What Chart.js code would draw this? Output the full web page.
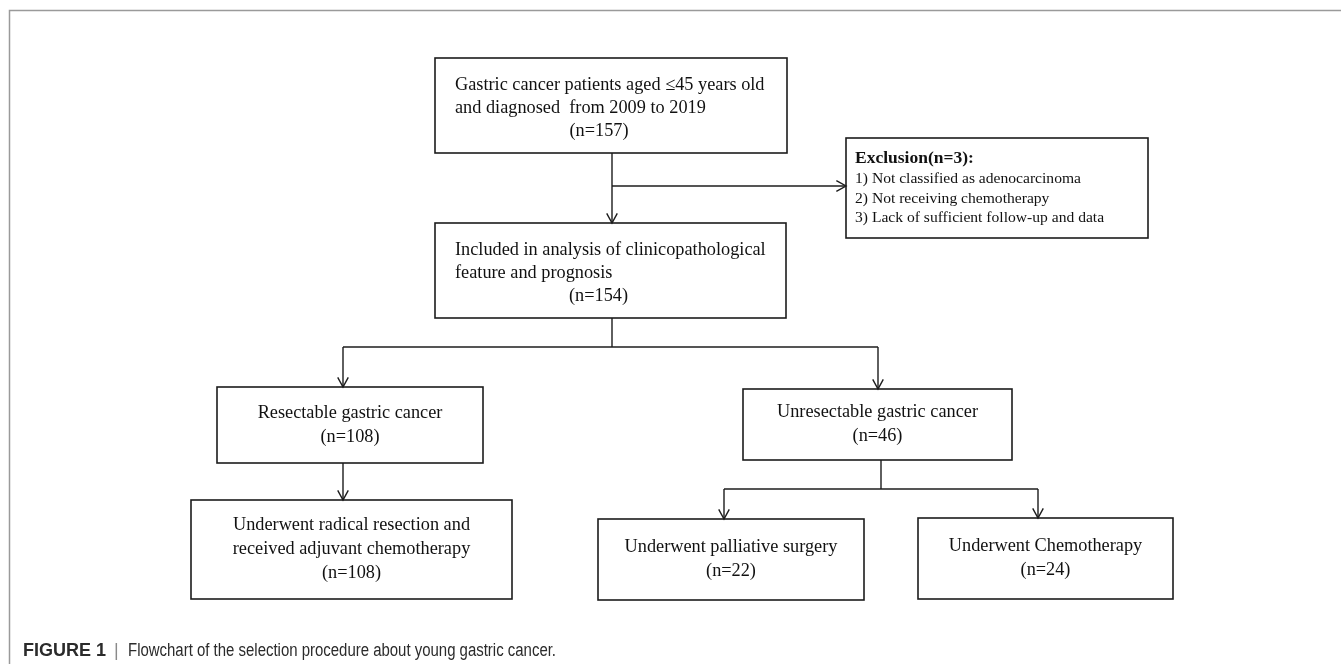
<!DOCTYPE html>
<html>
<head>
<meta charset="utf-8">
<script src="https://cdn.jsdelivr.net/npm/chart.js@4.4.0/dist/chart.umd.min.js"></script>
<style>
  html, body { margin: 0; padding: 0; background: #fff; }
  #wrap { width: 1341px; height: 664px; position: relative; }
</style>
</head>
<body>
<div id="wrap"><canvas id="flow"></canvas></div>
<script>
// flowchart data (text + counts)
const boxText = [
    ['Gastric cancer patients aged \u226445 years old', 'and diagnosed  from 2009 to 2019'],
    ['Included in analysis of clinicopathological', 'feature and prognosis'],
    ['Resectable gastric cancer'],
    ['Unresectable gastric cancer'],
    ['Underwent radical resection and', 'received adjuvant chemotherapy'],
    ['Underwent palliative surgery'],
    ['Underwent Chemotherapy']
];
const boxCounts = [157, 154, 108, 46, 108, 22, 24];
const exclusionCount = 3;
const exclusionReasons = [
    '1) Not classified as adenocarcinoma',
    '2) Not receiving chemotherapy',
    '3) Lack of sufficient follow-up and data'
];
const captionLabel = 'FIGURE 1';
const captionText = 'Flowchart of the selection procedure about young gastric cancer.';

// layout in chart units (x: 0..1341, y: 0..664 top-down)
const boxRects = [
    [435, 58, 787, 153],
    [435, 223, 786, 318],
    [217, 387, 483, 463],
    [743, 389, 1012, 460],
    [191, 500, 512, 599],
    [598, 519, 864, 600],
    [918, 518, 1173, 599]
];
const boxAlign = ['left', 'left', 'center', 'center', 'center', 'center', 'center'];
const exclusionRect = [846, 138, 1148, 238];

// connectors: [points, hasArrow]
const links = [
    [[[612, 153], [612, 223]], true],
    [[[612, 186], [846, 186]], true],
    [[[612, 318], [612, 347]], false],
    [[[343, 347], [878, 347]], false],
    [[[343, 347], [343, 387]], true],
    [[[878, 347], [878, 389]], true],
    [[[343, 463], [343, 500]], true],
    [[[881, 460], [881, 489]], false],
    [[[724, 489], [1038, 489]], false],
    [[[724, 489], [724, 519]], true],
    [[[1038, 489], [1038, 518]], true]
];

const serif = '"Liberation Serif", "Times New Roman", serif';

const flowPlugin = {
    id: 'flowPlugin',
    afterDraw(chart) {
        const ctx = chart.ctx;
        const sx = chart.scales.x, sy = chart.scales.y;
        const px = v => sx.getPixelForValue(v);
        const py = v => sy.getPixelForValue(v);

        ctx.save();

        // outer frame (top + left)
        ctx.strokeStyle = '#9a9a9a';
        ctx.lineWidth = 1.5;
        ctx.beginPath();
        ctx.moveTo(px(1341), py(10) + 0.5);
        ctx.lineTo(px(9) + 0.5, py(10) + 0.5);
        ctx.lineTo(px(9) + 0.5, py(664));
        ctx.stroke();

        // boxes
        ctx.strokeStyle = '#1c1c1c';
        ctx.lineWidth = 1.6;
        boxRects.concat([exclusionRect]).forEach(r => {
            ctx.strokeRect(px(r[0]), py(r[1]), px(r[2]) - px(r[0]), py(r[3]) - py(r[1]));
        });

        // connectors
        ctx.lineWidth = 1.4;
        links.forEach(l => {
            const pts = l[0];
            ctx.beginPath();
            ctx.moveTo(px(pts[0][0]), py(pts[0][1]));
            for (let i = 1; i < pts.length; i++) {
                ctx.lineTo(px(pts[i][0]), py(pts[i][1]));
            }
            ctx.stroke();
            if (l[1]) {
                const a = pts[pts.length - 2], b = pts[pts.length - 1];
                const tx = px(b[0]), ty = py(b[1]);
                const ang = Math.atan2(py(b[1]) - py(a[1]), px(b[0]) - px(a[0]));
                const len = 11, spread = 0.5;
                ctx.beginPath();
                ctx.moveTo(tx - len * Math.cos(ang - spread), ty - len * Math.sin(ang - spread));
                ctx.lineTo(tx, ty);
                ctx.lineTo(tx - len * Math.cos(ang + spread), ty - len * Math.sin(ang + spread));
                ctx.stroke();
            }
        });

        // box texts
        ctx.fillStyle = '#111';
        boxRects.forEach((r, i) => {
            const lines = boxText[i].concat(['(n=' + boxCounts[i] + ')']);
            const cx = (px(r[0]) + px(r[2])) / 2;
            if (boxAlign[i] === 'left') {
                ctx.font = '18.3px ' + serif;
                ctx.textBaseline = 'alphabetic';
                const top = py(r[1]);
                lines.forEach((t, j) => {
                    if (j < lines.length - 1) {
                        ctx.textAlign = 'left';
                        ctx.fillText(t, px(r[0]) + 20, top + 32 + j * 23);
                    } else {
                        ctx.textAlign = 'center';
                        ctx.fillText(t, cx - 12, top + 32 + j * 23);
                    }
                });
            } else {
                ctx.font = '18.3px ' + serif;
                ctx.textAlign = 'center';
                ctx.textBaseline = 'middle';
                const cy = (py(r[1]) + py(r[3])) / 2;
                const step = 24;
                const start = cy - (lines.length - 1) * step / 2;
                lines.forEach((t, j) => ctx.fillText(t, cx, start + j * step));
            }
        });

        // exclusion box
        const ex = px(exclusionRect[0]) + 9;
        ctx.textAlign = 'left';
        ctx.textBaseline = 'alphabetic';
        ctx.font = 'bold 17.5px ' + serif;
        ctx.fillText('Exclusion(n=' + exclusionCount + '):', ex, py(exclusionRect[1]) + 25);
        ctx.font = '15.6px ' + serif;
        exclusionReasons.forEach((t, j) => {
            ctx.fillText(t, ex, py(exclusionRect[1]) + 45 + j * 19.5);
        });

        // caption
        const capY = py(656);
        ctx.font = 'bold 18px "Liberation Sans", Arial, sans-serif';
        ctx.fillStyle = '#2b2b2b';
        ctx.fillText(captionLabel, px(23), capY);
        ctx.font = '18px "Liberation Sans", Arial, sans-serif';
        ctx.fillStyle = '#8a8a8a';
        ctx.fillText('|', px(114), capY);
        ctx.fillStyle = '#2b2b2b';
        ctx.fillText(captionText, px(128), capY, 428);

        ctx.restore();
    }
};

new Chart(document.getElementById('flow'), {
    type: 'scatter',
    data: {
        datasets: [{
            data: boxRects.map(r => ({ x: (r[0] + r[2]) / 2, y: (r[1] + r[3]) / 2 })),
            pointRadius: 0,
            pointHoverRadius: 0
        }]
    },
    options: {
        responsive: true,
        maintainAspectRatio: false,
        animation: false,
        layout: { padding: 0 },
        plugins: { legend: { display: false }, tooltip: { enabled: false } },
        scales: {
            x: { type: 'linear', min: 0, max: 1341, display: false },
            y: { type: 'linear', min: 0, max: 664, reverse: true, display: false }
        }
    },
    plugins: [flowPlugin]
});
</script>
</body>
</html>
